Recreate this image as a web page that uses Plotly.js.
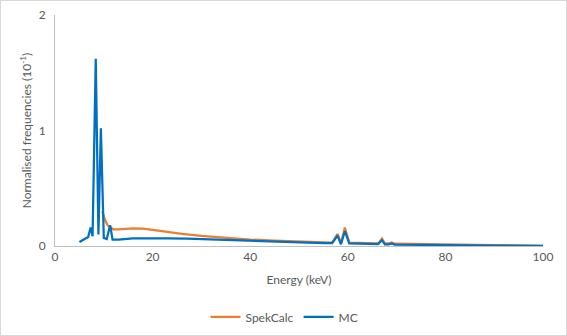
<!DOCTYPE html>
<html>
<head>
<meta charset="utf-8">
<script src="https://cdn.plot.ly/plotly-3.0.1.min.js"></script>
<style>
  html, body { margin: 0; padding: 0; background: #fff; }
  #chart { width: 567px; height: 336px; box-sizing: border-box; border: 1px solid #d9d9d9; }
</style>
</head>
<body>
<div id="chart"></div>
<script>
// Energy (keV) and normalised frequencies (10^-1)
const spekEnergy = [9.7, 10.3, 10.8, 11.3, 12, 13, 16, 18, 20, 23, 26, 30, 35, 40, 45, 50, 55, 56.8, 57.9, 58.6, 59.4, 60.3, 62, 65, 66.3, 67.0, 67.6, 68.4, 69.0, 69.6, 75, 80, 85, 90, 95, 100];
const spekValues = [0.30, 0.22, 0.18, 0.16, 0.145, 0.145, 0.152, 0.15, 0.14, 0.122, 0.105, 0.088, 0.07, 0.056, 0.046, 0.038, 0.032, 0.03, 0.105, 0.025, 0.16, 0.03, 0.028, 0.025, 0.022, 0.065, 0.022, 0.022, 0.03, 0.02, 0.017, 0.012, 0.009, 0.006, 0.003, 0.0];

const mcEnergy = [5.0, 6.0, 6.8, 7.3, 7.7, 8.35, 8.9, 9.4, 10.0, 10.6, 11.3, 11.8, 13, 16, 20, 23, 27, 30, 35, 40, 45, 50, 55, 56.8, 57.9, 58.6, 59.4, 60.3, 62, 65, 66.2, 67.0, 67.6, 68.4, 69.0, 69.6, 72, 76, 80, 85, 90, 95, 100];
const mcValues = [0.035, 0.055, 0.078, 0.16, 0.085, 1.62, 0.10, 1.02, 0.07, 0.06, 0.18, 0.055, 0.055, 0.067, 0.07, 0.067, 0.063, 0.059, 0.048, 0.04, 0.034, 0.03, 0.025, 0.024, 0.09, 0.015, 0.128, 0.022, 0.02, 0.017, 0.016, 0.05, 0.014, 0.015, 0.022, 0.012, 0.012, 0.01, 0.008, 0.006, 0.004, 0.002, 0.0];

const seriesNames = ['SpekCalc', 'MC'];
const xTicks = [0, 20, 40, 60, 80, 100];
const yTicks = [0, 1, 2];

const fontFam = 'Lato, "Open Sans", sans-serif';
const grey = '#595959';

const traces = [
  { x: spekEnergy, y: spekValues, name: seriesNames[0], type: 'scatter', mode: 'lines',
    line: { color: '#ED7D31', width: 2.25 } },
  { x: mcEnergy, y: mcValues, name: seriesNames[1], type: 'scatter', mode: 'lines',
    line: { color: '#0070C0', width: 2.25 } }
];

const layout = {
  width: 567, height: 336,
  margin: { l: 54, r: 25, t: 14, b: 91 },
  paper_bgcolor: 'rgba(0,0,0,0)', plot_bgcolor: '#fff',
  font: { family: fontFam, size: 12, color: grey },
  showlegend: true,
  legend: { orientation: 'h', x: 0.5, xref: 'container', xanchor: 'center',
    y: 0.06, yref: 'container', yanchor: 'middle',
    font: { family: fontFam, size: 12, color: grey } },
  xaxis: {
    range: [0, 100], tickvals: xTicks, ticktext: xTicks.map(String), automargin: false,
    showgrid: false, zeroline: false, showline: true, linecolor: '#bfbfbf', linewidth: 1,
    ticks: '', tickfont: { size: 12, color: grey },
    title: { text: 'Energy (keV)', font: { size: 12, color: grey }, standoff: 12 }
  },
  yaxis: {
    range: [0, 2], tickvals: yTicks, ticktext: yTicks.map(String), automargin: false,
    showgrid: false, zeroline: false, showline: true, linecolor: '#bfbfbf', linewidth: 1,
    ticks: '', tickfont: { size: 12, color: grey }, ticklabelstandoff: 6,
    title: { text: 'Normalised frequencies (10<sup>-1</sup>)', font: { size: 12, color: grey }, standoff: 4 }
  }
};

Plotly.newPlot('chart', traces, layout, { displayModeBar: false, staticPlot: true });
</script>
</body>
</html>
